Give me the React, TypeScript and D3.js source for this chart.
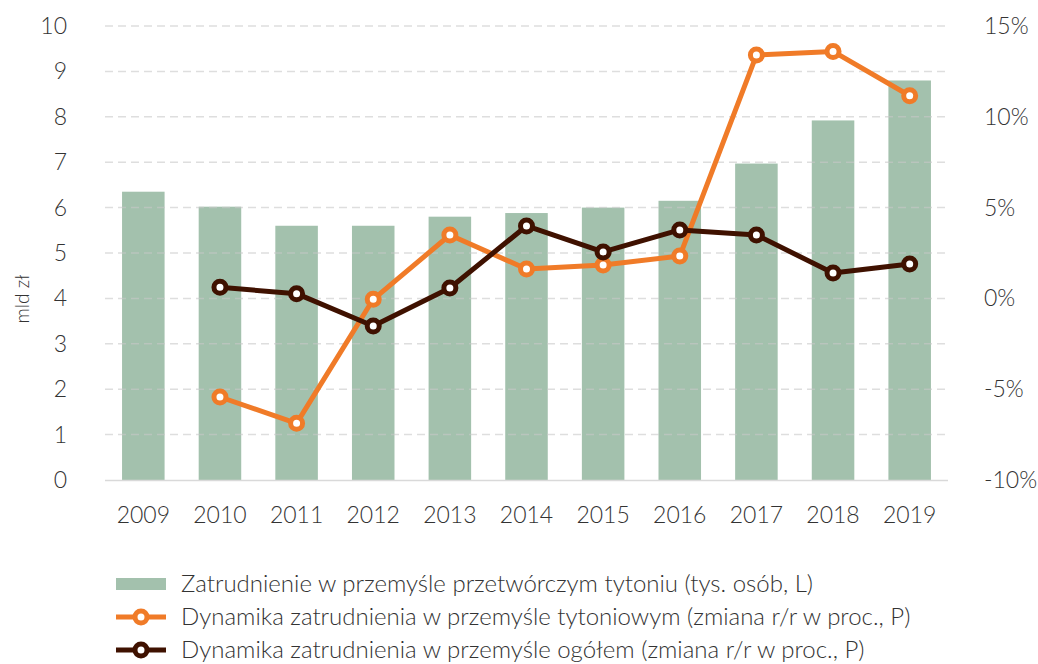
import React from "react";
import * as d3 from "d3";

const years = ["2009","2010","2011","2012","2013","2014","2015","2016","2017","2018","2019"];
const employment = [6.35, 6.02, 5.6, 5.6, 5.8, 5.88, 6.0, 6.15, 6.97, 7.92, 8.8];
const tobaccoDyn: (number | null)[] = [null, -5.43, -6.88, -0.05, 3.49, 1.62, 1.84, 2.33, 13.4, 13.6, 11.16];
const totalDyn: (number | null)[] = [null, 0.61, 0.26, -1.52, 0.57, 3.99, 2.56, 3.77, 3.49, 1.4, 1.9];
const leftTicks = [0,1,2,3,4,5,6,7,8,9,10];
const rightTicks = [-10,-5,0,5,10,15];
const legendLabels = [
  "Zatrudnienie w przemyśle przetwórczym tytoniu (tys. osób, L)",
  "Dynamika zatrudnienia w przemyśle tytoniowym (zmiana r/r w proc., P)",
  "Dynamika zatrudnienia w przemyśle ogółem (zmiana r/r w proc., P)",
];

const BAR = "#a3c1ad";
const ORANGE = "#f07b28";
const DARK = "#3f1100";
const TEXT = "#333333";
const FONT = "Lato, 'Open Sans', sans-serif";

export default function App() {
  const W = 1038, H = 664;
  const x0 = 105, x1 = 948, yTop = 26, yBot = 480;
  const x = d3.scaleBand<string>().domain(years).range([x0, x1]).paddingInner(0.445).paddingOuter(0.2225);
  const yL = d3.scaleLinear().domain([0, 10]).range([yBot, yTop]);
  const yR = d3.scaleLinear().domain([-10, 15]).range([yBot, yTop]);
  const cx = (y: string) => (x(y) ?? 0) + x.bandwidth() / 2;

  const mkLine = (vals: (number | null)[]) =>
    d3.line<number | null>()
      .defined((d) => d !== null)
      .x((_, i) => cx(years[i]))
      .y((d) => yR(d as number))(vals) ?? "";

  const series = [
    { vals: tobaccoDyn, color: ORANGE },
    { vals: totalDyn, color: DARK },
  ];

  return (
    <svg width={W} height={H} style={{ position: "absolute", left: 0, top: 0, background: "#fff" }} fontFamily={FONT}>
      {years.map((yr, i) => (
        <rect key={yr} x={x(yr)} y={yL(employment[i])} width={x.bandwidth()} height={yBot - yL(employment[i])} fill={BAR} />
      ))}
      {leftTicks.filter((t) => t > 0).map((t) => (
        <line key={t} x1={x0} x2={x1} y1={yL(t)} y2={yL(t)} stroke="#c8c8c8" strokeOpacity={0.6} strokeWidth={1.5} strokeDasharray="8 5" />
      ))}
      <line x1={x0} x2={x1} y1={yBot + 0.5} y2={yBot + 0.5} stroke="#d9d9d9" strokeWidth={1.5} />
      {leftTicks.map((t) => (
        <text key={t} x={67} y={yL(t)} dy="0.35em" textAnchor="end" fontSize={23} fontWeight={300} fill={TEXT}>{t}</text>
      ))}
      {rightTicks.map((t) => (
        <text key={t} x={984} y={yR(t)} dy="0.35em" textAnchor="start" fontSize={23} fontWeight={300} fill={TEXT}>{t}%</text>
      ))}
      {years.map((yr) => (
        <text key={yr} x={cx(yr)} y={523} textAnchor="middle" fontSize={23} fontWeight={300} fill={TEXT}>{yr}</text>
      ))}
      <text transform="translate(29,299) rotate(-90)" textAnchor="middle" fontSize={19} fontWeight={300} fill={TEXT}>mld zł</text>
      {series.map((s, si) => (
        <g key={si}>
          <path d={mkLine(s.vals)} fill="none" stroke={s.color} strokeWidth={5} strokeLinejoin="round" />
          {s.vals.map((v, i) => v === null ? null : (
            <circle key={i} cx={cx(years[i])} cy={yR(v)} r={6} fill="#fff" stroke={s.color} strokeWidth={5} />
          ))}
        </g>
      ))}
      {legendLabels.map((lab, i) => {
        const ly = 584 + i * 33;
        return (
          <g key={i}>
            {i === 0 ? (
              <rect x={116} y={ly - 6} width={50} height={12} fill={BAR} />
            ) : (
              <g>
                <line x1={116} x2={166} y1={ly} y2={ly} stroke={i === 1 ? ORANGE : DARK} strokeWidth={5} />
                <circle cx={141} cy={ly} r={6} fill="#fff" stroke={i === 1 ? ORANGE : DARK} strokeWidth={5} />
              </g>
            )}
            <text x={181} y={ly} dy="0.35em" fontSize={24} fontWeight={300} fill={TEXT}>{lab}</text>
          </g>
        );
      })}
    </svg>
  );
}
